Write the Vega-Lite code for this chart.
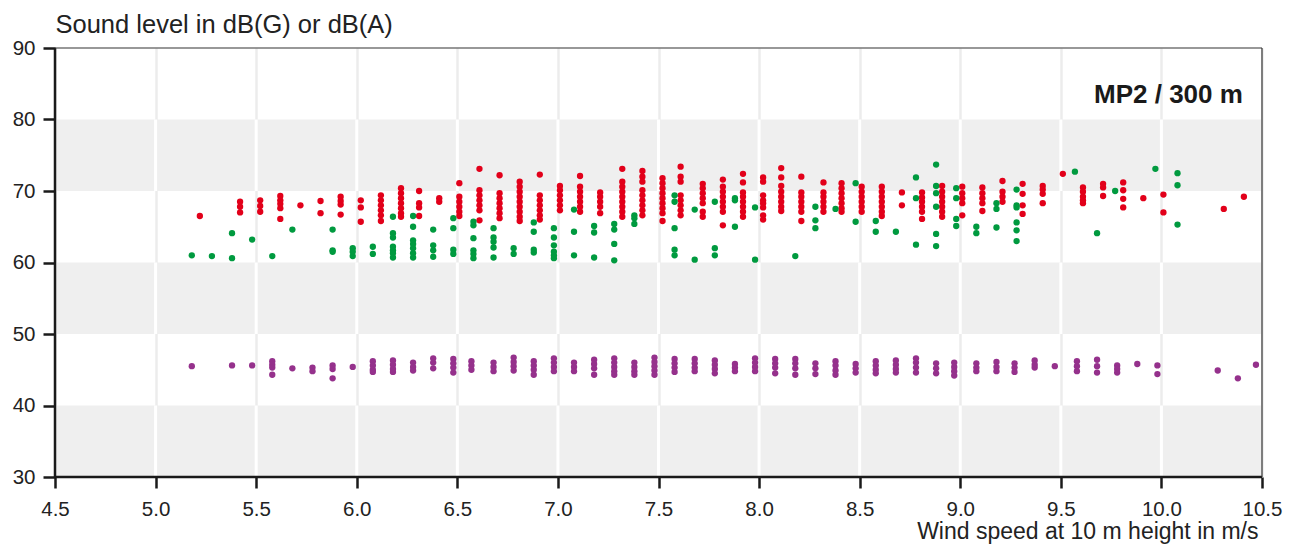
{
"$schema": "https://vega.github.io/schema/vega-lite/v6.json",
"width": 1207, "height": 429,
"autosize": {"type": "none"},
"padding": {"left": 55, "top": 48, "right": 34, "bottom": 72},
"background": "white",
"view": {"stroke": null},
"config": {"font": "Liberation Sans"},
"datasets": {
"bands": [{"lo": 30, "hi": 40}, {"lo": 50, "hi": 60}, {"lo": 70, "hi": 80}],
"ticks": [{"t": 5.0}, {"t": 5.5}, {"t": 6.0}, {"t": 6.5}, {"t": 7.0}, {"t": 7.5}, {"t": 8.0}, {"t": 8.5}, {"t": 9.0}, {"t": 9.5}, {"t": 10.0}],
"label": [{"text": "MP2 / 300 m"}],
"pts": [
{"w":5.18,"L":45.5,"s":"A"},{"w":5.38,"L":45.6,"s":"A"},{"w":5.48,"L":45.6,"s":"A"},
{"w":5.58,"L":46.2,"s":"A"},{"w":5.58,"L":45.7,"s":"A"},{"w":5.58,"L":45.3,"s":"A"},{"w":5.58,"L":44.3,"s":"A"},
{"w":5.68,"L":45.2,"s":"A"},{"w":5.78,"L":45.3,"s":"A"},{"w":5.78,"L":44.8,"s":"A"},
{"w":5.88,"L":45.6,"s":"A"},{"w":5.88,"L":45.1,"s":"A"},{"w":5.88,"L":43.8,"s":"A"},
{"w":5.98,"L":45.4,"s":"A"},
{"w":6.08,"L":46.2,"s":"A"},{"w":6.08,"L":45.6,"s":"A"},{"w":6.08,"L":45.0,"s":"A"},{"w":6.08,"L":44.7,"s":"A"},
{"w":6.18,"L":46.3,"s":"A"},{"w":6.18,"L":45.7,"s":"A"},{"w":6.18,"L":45.1,"s":"A"},{"w":6.18,"L":44.7,"s":"A"},
{"w":6.28,"L":46.0,"s":"A"},{"w":6.28,"L":45.4,"s":"A"},{"w":6.28,"L":44.9,"s":"A"},
{"w":6.38,"L":46.6,"s":"A"},{"w":6.38,"L":46.0,"s":"A"},{"w":6.38,"L":45.2,"s":"A"},
{"w":6.48,"L":46.5,"s":"A"},{"w":6.48,"L":45.9,"s":"A"},{"w":6.48,"L":45.3,"s":"A"},{"w":6.48,"L":44.6,"s":"A"},
{"w":6.57,"L":46.2,"s":"A"},{"w":6.57,"L":45.6,"s":"A"},{"w":6.57,"L":45.0,"s":"A"},
{"w":6.68,"L":46.0,"s":"A"},{"w":6.68,"L":45.4,"s":"A"},{"w":6.68,"L":44.8,"s":"A"},
{"w":6.78,"L":46.7,"s":"A"},{"w":6.78,"L":46.1,"s":"A"},{"w":6.78,"L":45.5,"s":"A"},{"w":6.78,"L":44.9,"s":"A"},
{"w":6.88,"L":46.2,"s":"A"},{"w":6.88,"L":45.6,"s":"A"},{"w":6.88,"L":45.0,"s":"A"},{"w":6.88,"L":44.3,"s":"A"},
{"w":6.98,"L":46.6,"s":"A"},{"w":6.98,"L":46.0,"s":"A"},{"w":6.98,"L":45.4,"s":"A"},{"w":6.98,"L":44.8,"s":"A"},
{"w":7.08,"L":46.0,"s":"A"},{"w":7.08,"L":45.4,"s":"A"},{"w":7.08,"L":44.8,"s":"A"},
{"w":7.18,"L":46.4,"s":"A"},{"w":7.18,"L":45.8,"s":"A"},{"w":7.18,"L":45.2,"s":"A"},{"w":7.18,"L":44.3,"s":"A"},
{"w":7.28,"L":46.6,"s":"A"},{"w":7.28,"L":46.0,"s":"A"},{"w":7.28,"L":45.4,"s":"A"},{"w":7.28,"L":44.8,"s":"A"},{"w":7.28,"L":44.3,"s":"A"},
{"w":7.38,"L":46.0,"s":"A"},{"w":7.38,"L":45.4,"s":"A"},{"w":7.38,"L":44.8,"s":"A"},{"w":7.38,"L":44.3,"s":"A"},
{"w":7.48,"L":46.7,"s":"A"},{"w":7.48,"L":46.1,"s":"A"},{"w":7.48,"L":45.5,"s":"A"},{"w":7.48,"L":44.9,"s":"A"},{"w":7.48,"L":44.3,"s":"A"},
{"w":7.58,"L":46.5,"s":"A"},{"w":7.58,"L":45.9,"s":"A"},{"w":7.58,"L":45.3,"s":"A"},{"w":7.58,"L":44.7,"s":"A"},
{"w":7.68,"L":46.5,"s":"A"},{"w":7.68,"L":45.9,"s":"A"},{"w":7.68,"L":45.3,"s":"A"},{"w":7.68,"L":44.8,"s":"A"},
{"w":7.78,"L":46.3,"s":"A"},{"w":7.78,"L":45.7,"s":"A"},{"w":7.78,"L":45.1,"s":"A"},{"w":7.78,"L":44.5,"s":"A"},
{"w":7.88,"L":45.8,"s":"A"},{"w":7.88,"L":45.3,"s":"A"},{"w":7.88,"L":44.8,"s":"A"},
{"w":7.98,"L":46.6,"s":"A"},{"w":7.98,"L":46.0,"s":"A"},{"w":7.98,"L":45.4,"s":"A"},{"w":7.98,"L":44.8,"s":"A"},
{"w":8.08,"L":46.5,"s":"A"},{"w":8.08,"L":45.9,"s":"A"},{"w":8.08,"L":45.3,"s":"A"},{"w":8.08,"L":44.5,"s":"A"},
{"w":8.18,"L":46.5,"s":"A"},{"w":8.18,"L":45.9,"s":"A"},{"w":8.18,"L":45.2,"s":"A"},{"w":8.18,"L":44.3,"s":"A"},
{"w":8.28,"L":45.9,"s":"A"},{"w":8.28,"L":45.2,"s":"A"},{"w":8.28,"L":44.4,"s":"A"},
{"w":8.38,"L":46.2,"s":"A"},{"w":8.38,"L":45.6,"s":"A"},{"w":8.38,"L":44.9,"s":"A"},{"w":8.38,"L":44.3,"s":"A"},
{"w":8.48,"L":45.8,"s":"A"},{"w":8.48,"L":45.2,"s":"A"},{"w":8.48,"L":44.6,"s":"A"},
{"w":8.58,"L":46.2,"s":"A"},{"w":8.58,"L":45.6,"s":"A"},{"w":8.58,"L":45.0,"s":"A"},{"w":8.58,"L":44.5,"s":"A"},
{"w":8.68,"L":46.3,"s":"A"},{"w":8.68,"L":45.7,"s":"A"},{"w":8.68,"L":45.1,"s":"A"},{"w":8.68,"L":44.6,"s":"A"},
{"w":8.78,"L":46.6,"s":"A"},{"w":8.78,"L":46.0,"s":"A"},{"w":8.78,"L":45.3,"s":"A"},{"w":8.78,"L":44.6,"s":"A"},
{"w":8.88,"L":45.9,"s":"A"},{"w":8.88,"L":45.2,"s":"A"},{"w":8.88,"L":44.5,"s":"A"},
{"w":8.97,"L":46.0,"s":"A"},{"w":8.97,"L":45.4,"s":"A"},{"w":8.97,"L":44.8,"s":"A"},{"w":8.97,"L":44.2,"s":"A"},
{"w":9.08,"L":45.9,"s":"A"},{"w":9.08,"L":45.3,"s":"A"},{"w":9.08,"L":44.8,"s":"A"},
{"w":9.18,"L":46.1,"s":"A"},{"w":9.18,"L":45.4,"s":"A"},{"w":9.18,"L":44.8,"s":"A"},
{"w":9.27,"L":45.9,"s":"A"},{"w":9.27,"L":45.3,"s":"A"},{"w":9.27,"L":44.7,"s":"A"},
{"w":9.37,"L":46.3,"s":"A"},{"w":9.37,"L":45.7,"s":"A"},{"w":9.37,"L":45.3,"s":"A"},
{"w":9.47,"L":45.5,"s":"A"},
{"w":9.58,"L":46.2,"s":"A"},{"w":9.58,"L":45.5,"s":"A"},{"w":9.58,"L":44.8,"s":"A"},
{"w":9.68,"L":46.4,"s":"A"},{"w":9.68,"L":45.5,"s":"A"},{"w":9.68,"L":44.6,"s":"A"},
{"w":9.78,"L":45.6,"s":"A"},{"w":9.78,"L":45.1,"s":"A"},{"w":9.78,"L":44.6,"s":"A"},
{"w":9.88,"L":45.8,"s":"A"},{"w":9.98,"L":45.6,"s":"A"},{"w":9.98,"L":44.4,"s":"A"},
{"w":10.28,"L":44.9,"s":"A"},{"w":10.38,"L":43.8,"s":"A"},{"w":10.47,"L":45.7,"s":"A"},

{"w":5.22,"L":66.5,"s":"R"},
{"w":5.42,"L":68.5,"s":"R"},{"w":5.42,"L":67.8,"s":"R"},{"w":5.42,"L":67.0,"s":"R"},
{"w":5.52,"L":68.7,"s":"R"},{"w":5.52,"L":67.9,"s":"R"},{"w":5.52,"L":67.1,"s":"R"},
{"w":5.62,"L":69.3,"s":"R"},{"w":5.62,"L":68.7,"s":"R"},{"w":5.62,"L":68.2,"s":"R"},{"w":5.62,"L":67.6,"s":"R"},{"w":5.62,"L":66.1,"s":"R"},
{"w":5.72,"L":68.0,"s":"R"},
{"w":5.82,"L":68.6,"s":"R"},{"w":5.82,"L":66.9,"s":"R"},
{"w":5.92,"L":69.2,"s":"R"},{"w":5.92,"L":68.6,"s":"R"},{"w":5.92,"L":68.1,"s":"R"},{"w":5.92,"L":66.7,"s":"R"},
{"w":6.02,"L":68.7,"s":"R"},{"w":6.02,"L":67.7,"s":"R"},{"w":6.02,"L":65.7,"s":"R"},
{"w":6.12,"L":69.4,"s":"R"},{"w":6.12,"L":68.7,"s":"R"},{"w":6.12,"L":68.0,"s":"R"},{"w":6.12,"L":67.3,"s":"R"},{"w":6.12,"L":66.6,"s":"R"},{"w":6.12,"L":65.8,"s":"R"},
{"w":6.22,"L":70.4,"s":"R"},{"w":6.22,"L":69.7,"s":"R"},{"w":6.22,"L":69.0,"s":"R"},{"w":6.22,"L":68.3,"s":"R"},{"w":6.22,"L":67.6,"s":"R"},{"w":6.22,"L":66.9,"s":"R"},{"w":6.22,"L":66.4,"s":"R"},
{"w":6.31,"L":70.0,"s":"R"},{"w":6.31,"L":68.3,"s":"R"},{"w":6.31,"L":67.7,"s":"R"},{"w":6.31,"L":66.5,"s":"R"},
{"w":6.41,"L":69.0,"s":"R"},{"w":6.41,"L":68.5,"s":"R"},
{"w":6.51,"L":71.1,"s":"R"},{"w":6.51,"L":69.2,"s":"R"},{"w":6.51,"L":68.5,"s":"R"},{"w":6.51,"L":67.8,"s":"R"},{"w":6.51,"L":67.1,"s":"R"},{"w":6.51,"L":66.5,"s":"R"},
{"w":6.61,"L":73.1,"s":"R"},{"w":6.61,"L":70.1,"s":"R"},{"w":6.61,"L":69.4,"s":"R"},{"w":6.61,"L":68.7,"s":"R"},{"w":6.61,"L":68.0,"s":"R"},{"w":6.61,"L":67.3,"s":"R"},{"w":6.61,"L":65.9,"s":"R"},
{"w":6.71,"L":72.2,"s":"R"},{"w":6.71,"L":69.7,"s":"R"},{"w":6.71,"L":69.0,"s":"R"},{"w":6.71,"L":68.3,"s":"R"},{"w":6.71,"L":67.6,"s":"R"},{"w":6.71,"L":66.9,"s":"R"},{"w":6.71,"L":66.2,"s":"R"},
{"w":6.81,"L":71.3,"s":"R"},{"w":6.81,"L":70.6,"s":"R"},{"w":6.81,"L":69.9,"s":"R"},{"w":6.81,"L":69.2,"s":"R"},{"w":6.81,"L":68.5,"s":"R"},{"w":6.81,"L":67.8,"s":"R"},{"w":6.81,"L":67.1,"s":"R"},{"w":6.81,"L":66.4,"s":"R"},{"w":6.81,"L":65.8,"s":"R"},
{"w":6.91,"L":72.3,"s":"R"},{"w":6.91,"L":69.4,"s":"R"},{"w":6.91,"L":68.7,"s":"R"},{"w":6.91,"L":68.0,"s":"R"},{"w":6.91,"L":67.3,"s":"R"},{"w":6.91,"L":66.6,"s":"R"},{"w":6.91,"L":66.0,"s":"R"},
{"w":7.01,"L":70.7,"s":"R"},{"w":7.01,"L":70.1,"s":"R"},{"w":7.01,"L":69.4,"s":"R"},{"w":7.01,"L":68.7,"s":"R"},{"w":7.01,"L":68.0,"s":"R"},{"w":7.01,"L":67.3,"s":"R"},
{"w":7.11,"L":72.1,"s":"R"},{"w":7.11,"L":70.6,"s":"R"},{"w":7.11,"L":69.9,"s":"R"},{"w":7.11,"L":69.2,"s":"R"},{"w":7.11,"L":68.5,"s":"R"},{"w":7.11,"L":67.8,"s":"R"},{"w":7.11,"L":67.1,"s":"R"},
{"w":7.21,"L":69.8,"s":"R"},{"w":7.21,"L":69.2,"s":"R"},{"w":7.21,"L":68.5,"s":"R"},{"w":7.21,"L":67.8,"s":"R"},{"w":7.21,"L":66.9,"s":"R"},
{"w":7.32,"L":73.1,"s":"R"},{"w":7.32,"L":71.3,"s":"R"},{"w":7.32,"L":70.6,"s":"R"},{"w":7.32,"L":69.9,"s":"R"},{"w":7.32,"L":69.2,"s":"R"},{"w":7.32,"L":68.5,"s":"R"},{"w":7.32,"L":67.8,"s":"R"},{"w":7.32,"L":67.1,"s":"R"},{"w":7.32,"L":66.4,"s":"R"},
{"w":7.42,"L":72.8,"s":"R"},{"w":7.42,"L":72.0,"s":"R"},{"w":7.42,"L":71.3,"s":"R"},{"w":7.42,"L":70.1,"s":"R"},{"w":7.42,"L":69.4,"s":"R"},{"w":7.42,"L":68.7,"s":"R"},{"w":7.42,"L":68.0,"s":"R"},{"w":7.42,"L":67.3,"s":"R"},{"w":7.42,"L":66.6,"s":"R"},
{"w":7.52,"L":71.8,"s":"R"},{"w":7.52,"L":71.1,"s":"R"},{"w":7.52,"L":70.4,"s":"R"},{"w":7.52,"L":69.7,"s":"R"},{"w":7.52,"L":69.0,"s":"R"},{"w":7.52,"L":68.3,"s":"R"},{"w":7.52,"L":67.6,"s":"R"},{"w":7.52,"L":66.9,"s":"R"},{"w":7.52,"L":65.8,"s":"R"},
{"w":7.61,"L":73.4,"s":"R"},{"w":7.61,"L":72.0,"s":"R"},{"w":7.61,"L":71.3,"s":"R"},{"w":7.61,"L":69.4,"s":"R"},{"w":7.61,"L":68.7,"s":"R"},{"w":7.61,"L":68.0,"s":"R"},{"w":7.61,"L":67.3,"s":"R"},{"w":7.61,"L":66.6,"s":"R"},
{"w":7.72,"L":71.0,"s":"R"},{"w":7.72,"L":70.4,"s":"R"},{"w":7.72,"L":69.7,"s":"R"},{"w":7.72,"L":69.0,"s":"R"},{"w":7.72,"L":68.3,"s":"R"},{"w":7.72,"L":67.1,"s":"R"},{"w":7.72,"L":66.4,"s":"R"},
{"w":7.82,"L":71.6,"s":"R"},{"w":7.82,"L":70.6,"s":"R"},{"w":7.82,"L":69.9,"s":"R"},{"w":7.82,"L":69.2,"s":"R"},{"w":7.82,"L":68.5,"s":"R"},{"w":7.82,"L":67.8,"s":"R"},{"w":7.82,"L":67.1,"s":"R"},{"w":7.82,"L":65.2,"s":"R"},
{"w":7.92,"L":72.4,"s":"R"},{"w":7.92,"L":71.2,"s":"R"},{"w":7.92,"L":69.8,"s":"R"},{"w":7.92,"L":69.2,"s":"R"},{"w":7.92,"L":68.5,"s":"R"},{"w":7.92,"L":67.8,"s":"R"},{"w":7.92,"L":67.1,"s":"R"},{"w":7.92,"L":66.4,"s":"R"},
{"w":8.02,"L":71.9,"s":"R"},{"w":8.02,"L":71.3,"s":"R"},{"w":8.02,"L":69.4,"s":"R"},{"w":8.02,"L":68.7,"s":"R"},{"w":8.02,"L":68.3,"s":"R"},{"w":8.02,"L":67.7,"s":"R"},{"w":8.02,"L":66.6,"s":"R"},{"w":8.02,"L":66.0,"s":"R"},
{"w":8.11,"L":73.2,"s":"R"},{"w":8.11,"L":71.9,"s":"R"},{"w":8.11,"L":70.7,"s":"R"},{"w":8.11,"L":69.9,"s":"R"},{"w":8.11,"L":69.2,"s":"R"},{"w":8.11,"L":68.5,"s":"R"},{"w":8.11,"L":67.8,"s":"R"},{"w":8.11,"L":67.2,"s":"R"},
{"w":8.21,"L":72.0,"s":"R"},{"w":8.21,"L":69.8,"s":"R"},{"w":8.21,"L":69.2,"s":"R"},{"w":8.21,"L":68.5,"s":"R"},{"w":8.21,"L":67.8,"s":"R"},{"w":8.21,"L":67.1,"s":"R"},{"w":8.21,"L":65.8,"s":"R"},
{"w":8.32,"L":71.2,"s":"R"},{"w":8.32,"L":69.8,"s":"R"},{"w":8.32,"L":69.2,"s":"R"},{"w":8.32,"L":68.5,"s":"R"},{"w":8.32,"L":67.8,"s":"R"},{"w":8.32,"L":67.1,"s":"R"},
{"w":8.41,"L":71.1,"s":"R"},{"w":8.41,"L":70.4,"s":"R"},{"w":8.41,"L":69.7,"s":"R"},{"w":8.41,"L":69.0,"s":"R"},{"w":8.41,"L":68.3,"s":"R"},{"w":8.41,"L":67.6,"s":"R"},{"w":8.41,"L":67.1,"s":"R"},
{"w":8.51,"L":70.6,"s":"R"},{"w":8.51,"L":69.9,"s":"R"},{"w":8.51,"L":69.2,"s":"R"},{"w":8.51,"L":68.5,"s":"R"},{"w":8.51,"L":67.8,"s":"R"},{"w":8.51,"L":67.1,"s":"R"},
{"w":8.61,"L":70.6,"s":"R"},{"w":8.61,"L":69.9,"s":"R"},{"w":8.61,"L":69.2,"s":"R"},{"w":8.61,"L":68.5,"s":"R"},{"w":8.61,"L":67.8,"s":"R"},{"w":8.61,"L":67.1,"s":"R"},{"w":8.61,"L":66.5,"s":"R"},
{"w":8.71,"L":69.8,"s":"R"},{"w":8.71,"L":68.0,"s":"R"},
{"w":8.81,"L":69.8,"s":"R"},{"w":8.81,"L":69.1,"s":"R"},{"w":8.81,"L":68.5,"s":"R"},{"w":8.81,"L":67.8,"s":"R"},{"w":8.81,"L":67.1,"s":"R"},{"w":8.81,"L":66.1,"s":"R"},
{"w":8.91,"L":70.7,"s":"R"},{"w":8.91,"L":69.9,"s":"R"},{"w":8.91,"L":69.2,"s":"R"},{"w":8.91,"L":68.5,"s":"R"},{"w":8.91,"L":67.8,"s":"R"},{"w":8.91,"L":67.1,"s":"R"},{"w":8.91,"L":66.4,"s":"R"},
{"w":9.01,"L":70.6,"s":"R"},{"w":9.01,"L":69.7,"s":"R"},{"w":9.01,"L":69.0,"s":"R"},{"w":9.01,"L":68.3,"s":"R"},{"w":9.01,"L":66.6,"s":"R"},
{"w":9.11,"L":70.5,"s":"R"},{"w":9.11,"L":69.7,"s":"R"},{"w":9.11,"L":69.0,"s":"R"},{"w":9.11,"L":68.3,"s":"R"},{"w":9.11,"L":67.2,"s":"R"},
{"w":9.21,"L":71.4,"s":"R"},{"w":9.21,"L":69.9,"s":"R"},{"w":9.21,"L":69.2,"s":"R"},{"w":9.21,"L":68.5,"s":"R"},
{"w":9.31,"L":71.0,"s":"R"},{"w":9.31,"L":69.6,"s":"R"},{"w":9.31,"L":68.0,"s":"R"},{"w":9.31,"L":66.8,"s":"R"},
{"w":9.41,"L":70.7,"s":"R"},{"w":9.41,"L":70.2,"s":"R"},{"w":9.41,"L":69.6,"s":"R"},{"w":9.41,"L":68.3,"s":"R"},
{"w":9.51,"L":72.4,"s":"R"},
{"w":9.61,"L":70.5,"s":"R"},{"w":9.61,"L":69.9,"s":"R"},{"w":9.61,"L":69.2,"s":"R"},{"w":9.61,"L":68.7,"s":"R"},{"w":9.61,"L":68.3,"s":"R"},
{"w":9.71,"L":71.0,"s":"R"},{"w":9.71,"L":70.5,"s":"R"},{"w":9.71,"L":69.3,"s":"R"},
{"w":9.81,"L":71.2,"s":"R"},{"w":9.81,"L":70.1,"s":"R"},{"w":9.81,"L":68.9,"s":"R"},{"w":9.81,"L":67.7,"s":"R"},
{"w":9.91,"L":69.0,"s":"R"},
{"w":10.01,"L":69.5,"s":"R"},{"w":10.01,"L":67.0,"s":"R"},
{"w":10.31,"L":67.5,"s":"R"},{"w":10.41,"L":69.2,"s":"R"},

{"w":5.18,"L":61.0,"s":"G"},{"w":5.28,"L":60.9,"s":"G"},
{"w":5.38,"L":64.1,"s":"G"},{"w":5.38,"L":60.6,"s":"G"},
{"w":5.48,"L":63.2,"s":"G"},{"w":5.58,"L":60.9,"s":"G"},{"w":5.68,"L":64.6,"s":"G"},
{"w":5.88,"L":64.6,"s":"G"},{"w":5.88,"L":61.7,"s":"G"},{"w":5.88,"L":61.5,"s":"G"},
{"w":5.98,"L":62.0,"s":"G"},{"w":5.98,"L":61.5,"s":"G"},{"w":5.98,"L":60.9,"s":"G"},
{"w":6.08,"L":62.2,"s":"G"},{"w":6.08,"L":61.2,"s":"G"},
{"w":6.18,"L":66.4,"s":"G"},{"w":6.18,"L":64.1,"s":"G"},{"w":6.18,"L":63.5,"s":"G"},{"w":6.18,"L":62.2,"s":"G"},{"w":6.18,"L":61.7,"s":"G"},{"w":6.18,"L":61.3,"s":"G"},{"w":6.18,"L":60.7,"s":"G"},
{"w":6.28,"L":66.5,"s":"G"},{"w":6.28,"L":65.0,"s":"G"},{"w":6.28,"L":63.1,"s":"G"},{"w":6.28,"L":62.6,"s":"G"},{"w":6.28,"L":62.0,"s":"G"},{"w":6.28,"L":61.3,"s":"G"},{"w":6.28,"L":60.7,"s":"G"},
{"w":6.38,"L":64.6,"s":"G"},{"w":6.38,"L":62.4,"s":"G"},{"w":6.38,"L":61.7,"s":"G"},{"w":6.38,"L":60.8,"s":"G"},
{"w":6.48,"L":66.2,"s":"G"},{"w":6.48,"L":64.8,"s":"G"},{"w":6.48,"L":61.8,"s":"G"},{"w":6.48,"L":61.2,"s":"G"},
{"w":6.58,"L":65.7,"s":"G"},{"w":6.58,"L":65.2,"s":"G"},{"w":6.58,"L":63.4,"s":"G"},{"w":6.58,"L":61.7,"s":"G"},{"w":6.58,"L":61.2,"s":"G"},{"w":6.58,"L":60.6,"s":"G"},
{"w":6.68,"L":64.8,"s":"G"},{"w":6.68,"L":63.5,"s":"G"},{"w":6.68,"L":62.9,"s":"G"},{"w":6.68,"L":62.1,"s":"G"},{"w":6.68,"L":60.7,"s":"G"},
{"w":6.78,"L":62.0,"s":"G"},{"w":6.78,"L":61.2,"s":"G"},
{"w":6.88,"L":65.6,"s":"G"},{"w":6.88,"L":64.3,"s":"G"},{"w":6.88,"L":61.8,"s":"G"},{"w":6.88,"L":61.4,"s":"G"},
{"w":6.98,"L":64.8,"s":"G"},{"w":6.98,"L":63.5,"s":"G"},{"w":6.98,"L":62.4,"s":"G"},{"w":6.98,"L":61.5,"s":"G"},{"w":6.98,"L":61.0,"s":"G"},{"w":6.98,"L":60.6,"s":"G"},
{"w":7.08,"L":67.4,"s":"G"},{"w":7.08,"L":64.3,"s":"G"},{"w":7.08,"L":61.0,"s":"G"},
{"w":7.18,"L":65.1,"s":"G"},{"w":7.18,"L":64.2,"s":"G"},{"w":7.18,"L":60.7,"s":"G"},
{"w":7.28,"L":65.4,"s":"G"},{"w":7.28,"L":64.6,"s":"G"},{"w":7.28,"L":62.6,"s":"G"},{"w":7.28,"L":60.3,"s":"G"},
{"w":7.38,"L":66.6,"s":"G"},{"w":7.38,"L":66.2,"s":"G"},{"w":7.38,"L":65.4,"s":"G"},
{"w":7.58,"L":69.4,"s":"G"},{"w":7.58,"L":68.5,"s":"G"},{"w":7.58,"L":64.8,"s":"G"},{"w":7.58,"L":61.8,"s":"G"},{"w":7.58,"L":61.0,"s":"G"},
{"w":7.68,"L":67.4,"s":"G"},{"w":7.68,"L":60.4,"s":"G"},
{"w":7.78,"L":68.5,"s":"G"},{"w":7.78,"L":62.0,"s":"G"},{"w":7.78,"L":61.0,"s":"G"},
{"w":7.88,"L":69.0,"s":"G"},{"w":7.88,"L":68.7,"s":"G"},{"w":7.88,"L":65.0,"s":"G"},
{"w":7.98,"L":67.7,"s":"G"},{"w":7.98,"L":60.4,"s":"G"},
{"w":8.18,"L":60.9,"s":"G"},
{"w":8.28,"L":67.8,"s":"G"},{"w":8.28,"L":65.9,"s":"G"},{"w":8.28,"L":64.8,"s":"G"},
{"w":8.38,"L":67.5,"s":"G"},
{"w":8.48,"L":71.1,"s":"G"},{"w":8.48,"L":65.7,"s":"G"},
{"w":8.58,"L":65.8,"s":"G"},{"w":8.58,"L":64.3,"s":"G"},
{"w":8.68,"L":64.3,"s":"G"},
{"w":8.78,"L":71.9,"s":"G"},{"w":8.78,"L":69.0,"s":"G"},{"w":8.78,"L":62.5,"s":"G"},
{"w":8.88,"L":73.7,"s":"G"},{"w":8.88,"L":70.7,"s":"G"},{"w":8.88,"L":69.7,"s":"G"},{"w":8.88,"L":67.8,"s":"G"},{"w":8.88,"L":64.0,"s":"G"},{"w":8.88,"L":62.3,"s":"G"},
{"w":8.98,"L":70.4,"s":"G"},{"w":8.98,"L":69.0,"s":"G"},{"w":8.98,"L":66.1,"s":"G"},{"w":8.98,"L":65.1,"s":"G"},
{"w":9.08,"L":65.0,"s":"G"},{"w":9.08,"L":64.1,"s":"G"},
{"w":9.18,"L":68.3,"s":"G"},{"w":9.18,"L":67.5,"s":"G"},{"w":9.18,"L":64.9,"s":"G"},
{"w":9.28,"L":70.2,"s":"G"},{"w":9.28,"L":68.0,"s":"G"},{"w":9.28,"L":67.7,"s":"G"},{"w":9.28,"L":65.6,"s":"G"},{"w":9.28,"L":64.5,"s":"G"},{"w":9.28,"L":63.0,"s":"G"},
{"w":9.57,"L":72.7,"s":"G"},{"w":9.68,"L":64.1,"s":"G"},{"w":9.77,"L":70.0,"s":"G"},{"w":9.97,"L":73.1,"s":"G"},
{"w":10.08,"L":72.5,"s":"G"},{"w":10.08,"L":70.8,"s":"G"},{"w":10.08,"L":65.3,"s":"G"}
]
},
"layer": [
{
"data": {"name": "bands"},
"mark": {"type": "rect", "color": "#efefef"},
"encoding": {
"x": {"datum": 4.5, "type": "quantitative",
"scale": {"domain": [4.5, 10.5], "nice": false, "zero": false},
"axis": {"values": [4.5, 5.0, 5.5, 6.0, 6.5, 7.0, 7.5, 8.0, 8.5, 9.0, 9.5, 10.0, 10.5], "format": ".1f",
"grid": true, "gridColor": "#ececec", "gridWidth": 2.5,
"domain": false, "tickColor": "#1a1a1a", "tickWidth": 2.5, "tickSize": 11,
"labelFontSize": 20.5, "labelColor": "#222222", "labelBaseline": "alphabetic", "labelPadding": 27, "labelFlush": false, "labelOverlap": false,
"title": "Wind speed at 10 m height in m/s", "titleFontSize": 23, "titleFontWeight": "normal", "titleColor": "#222222",
"titleAngle": 0, "titleAlign": "right", "titleBaseline": "alphabetic", "titleX": 1203, "titleY": 61}},
"x2": {"datum": 10.5},
"y": {"field": "lo", "type": "quantitative",
"scale": {"domain": [30, 90], "nice": false, "zero": false},
"axis": {"values": [30, 40, 50, 60, 70, 80, 90], "grid": false, "domain": false,
"tickColor": "#1a1a1a", "tickWidth": 2.5, "tickSize": 12,
"labelFontSize": 20.5, "labelColor": "#222222", "labelPadding": 8,
"title": "Sound level in dB(G) or dB(A)", "titleFontSize": 25.5, "titleFontWeight": "normal", "titleColor": "#222222",
"titleAngle": 0, "titleAlign": "left", "titleBaseline": "alphabetic", "titleX": 0, "titleY": -16}},
"y2": {"field": "hi"}
}
},
{"data": {"name": "ticks"}, "mark": {"type": "rule", "color": "white", "strokeWidth": 3},
"encoding": {"x": {"field": "t", "type": "quantitative"}, "y": {"datum": 30}, "y2": {"datum": 40}}},
{"data": {"name": "ticks"}, "mark": {"type": "rule", "color": "white", "strokeWidth": 3},
"encoding": {"x": {"field": "t", "type": "quantitative"}, "y": {"datum": 50}, "y2": {"datum": 60}}},
{"data": {"name": "ticks"}, "mark": {"type": "rule", "color": "white", "strokeWidth": 3},
"encoding": {"x": {"field": "t", "type": "quantitative"}, "y": {"datum": 70}, "y2": {"datum": 80}}},
{"data": {"name": "pts"}, "mark": {"type": "circle", "size": 40, "opacity": 1},
"encoding": {
"x": {"field": "w", "type": "quantitative"},
"y": {"field": "L", "type": "quantitative"},
"color": {"field": "s", "type": "nominal", "scale": {"domain": ["A", "R", "G"], "range": ["#95318c", "#e2001a", "#009a3f"]}, "legend": null}
}},
{"data": {"name": "label"}, "mark": {"type": "text", "align": "right", "baseline": "alphabetic", "fontSize": 26, "fontWeight": "bold", "color": "#1a1a1a"},
"encoding": {"x": {"datum": 10.405}, "y": {"datum": 82.35}, "text": {"field": "text"}}},
{"data": {"name": "label"}, "mark": {"type": "rule", "color": "#1a1a1a", "strokeWidth": 2.5},
"encoding": {"x": {"datum": 4.5}, "y": {"datum": 30}, "y2": {"datum": 90}}},
{"data": {"name": "label"}, "mark": {"type": "rule", "color": "#1a1a1a", "strokeWidth": 2.5},
"encoding": {"x": {"datum": 4.5}, "x2": {"datum": 10.5}, "y": {"datum": 30}}},
{"data": {"name": "label"}, "mark": {"type": "rule", "color": "#333333", "strokeWidth": 1.2},
"encoding": {"x": {"datum": 4.5}, "x2": {"datum": 10.5}, "y": {"datum": 90}}},
{"data": {"name": "label"}, "mark": {"type": "rule", "color": "#333333", "strokeWidth": 1.2},
"encoding": {"x": {"datum": 10.5}, "y": {"datum": 30}, "y2": {"datum": 90}}}
]
}
